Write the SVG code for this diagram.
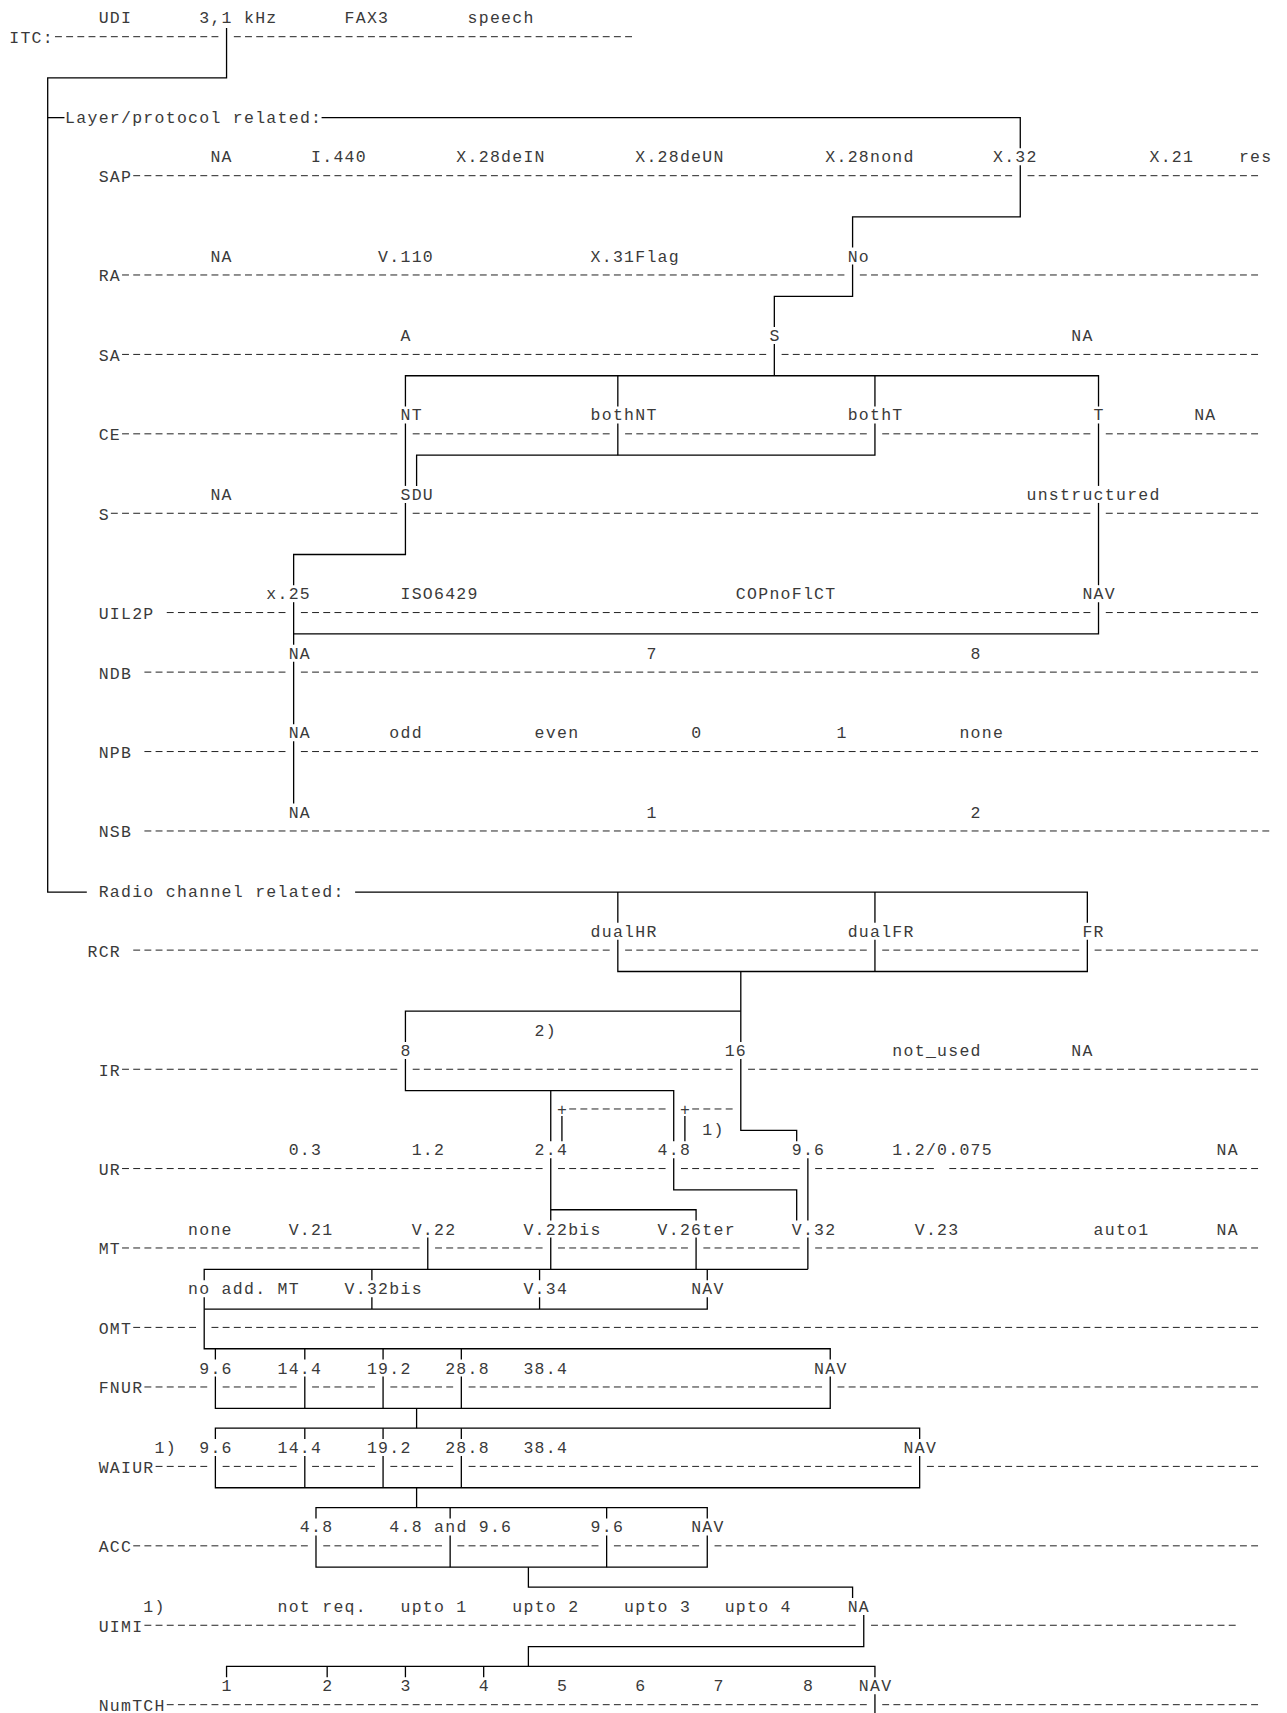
<svg xmlns="http://www.w3.org/2000/svg" width="1287" height="1713" viewBox="0 0 1287 1713">
<style>
.t{font-family:"Liberation Mono","DejaVu Sans Mono",monospace;font-size:16.5px;letter-spacing:1.279px;fill:#3a3a3a;white-space:pre}
.d{stroke:#222;stroke-width:1;stroke-dasharray:6.9 4.279;fill:none}
.c{stroke:#000;stroke-width:1.3;fill:none}
</style>
<rect width="1287" height="1713" fill="#fff"/>
<g id="itc">
<text class="t" x="98.64" y="23.34">UDI</text><text class="t" x="199.25" y="23.34">3,1 kHz</text><text class="t" x="344.58" y="23.34">FAX3</text><text class="t" x="467.55" y="23.34">speech</text>
<text class="t" x="9.21" y="43.2">ITC:</text>
<path class="d" d="M54.99,36.7H218.39M233.85,36.7H632.02"/>
</g>
<g id="layer"><text class="t" x="65.11" y="122.63">Layer/protocol related:</text></g>
<g id="sap">
<text class="t" x="210.43" y="162.34">NA</text><text class="t" x="311.04" y="162.34">I.440</text><text class="t" x="456.37" y="162.34">X.28deIN</text><text class="t" x="635.23" y="162.34">X.28deUN</text><text class="t" x="825.28" y="162.34">X.28nond</text><text class="t" x="992.96" y="162.34">X.32</text><text class="t" x="1149.47" y="162.34">X.21</text><text class="t" x="1238.9" y="162.34">res</text>
<text class="t" x="98.64" y="182.2">SAP</text>
<path class="d" d="M133.24,175.7H1012.1M1027.56,175.7H1258.04"/>
</g>
<g id="ra">
<text class="t" x="210.43" y="261.62">NA</text><text class="t" x="378.12" y="261.62">V.110</text><text class="t" x="590.52" y="261.62">X.31Flag</text><text class="t" x="847.64" y="261.62">No</text>
<text class="t" x="98.64" y="281.48">RA</text>
<path class="d" d="M122.06,274.98H844.42M859.87,274.98H1258.04"/>
</g>
<g id="sa">
<text class="t" x="400.48" y="341.05">A</text><text class="t" x="769.38" y="341.05">S</text><text class="t" x="1071.22" y="341.05">NA</text>
<text class="t" x="98.64" y="360.91">SA</text>
<path class="d" d="M122.06,354.41H766.16M781.62,354.41H1258.04"/>
</g>
<g id="ce">
<text class="t" x="400.48" y="420.48">NT</text><text class="t" x="590.52" y="420.48">bothNT</text><text class="t" x="847.64" y="420.48">bothT</text><text class="t" x="1093.57" y="420.48">T</text><text class="t" x="1194.18" y="420.48">NA</text>
<text class="t" x="98.64" y="440.34">CE</text>
<path class="d" d="M122.06,433.84H397.26M412.71,433.84H609.66M625.12,433.84H866.77M882.23,433.84H1090.35M1105.81,433.84H1258.04"/>
</g>
<g id="s">
<text class="t" x="210.43" y="499.91">NA</text><text class="t" x="400.48" y="499.91">SDU</text><text class="t" x="1026.5" y="499.91">unstructured</text>
<text class="t" x="98.64" y="519.77">S</text>
<path class="d" d="M110.88,513.27H397.26M412.71,513.27H1090.35M1105.81,513.27H1258.04"/>
</g>
<g id="uil2p">
<text class="t" x="266.33" y="599.19">x.25</text><text class="t" x="400.48" y="599.19">ISO6429</text><text class="t" x="735.85" y="599.19">COPnoFlCT</text><text class="t" x="1082.39" y="599.19">NAV</text>
<text class="t" x="98.64" y="619.05">UIL2P</text>
<path class="d" d="M166.78,612.55H285.47M300.92,612.55H1090.35M1105.81,612.55H1258.04"/>
</g>
<g id="ndb">
<text class="t" x="288.69" y="658.76">NA</text><text class="t" x="646.41" y="658.76">7</text><text class="t" x="970.6" y="658.76">8</text>
<text class="t" x="98.64" y="678.62">NDB</text>
<path class="d" d="M144.42,672.12H285.47M300.92,672.12H1258.04"/>
</g>
<g id="npb">
<text class="t" x="288.69" y="738.19">NA</text><text class="t" x="389.3" y="738.19">odd</text><text class="t" x="534.62" y="738.19">even</text><text class="t" x="691.13" y="738.19">0</text><text class="t" x="836.46" y="738.19">1</text><text class="t" x="959.43" y="738.19">none</text>
<text class="t" x="98.64" y="758.05">NPB</text>
<path class="d" d="M144.42,751.55H285.47M300.92,751.55H1258.04"/>
</g>
<g id="nsb">
<text class="t" x="288.69" y="817.62">NA</text><text class="t" x="646.41" y="817.62">1</text><text class="t" x="970.6" y="817.62">2</text>
<text class="t" x="98.64" y="837.48">NSB</text>
<path class="d" d="M144.42,830.98H1269.22"/>
</g>
<g id="radio"><text class="t" x="98.64" y="897.05">Radio channel related:</text></g>
<g id="rcr">
<text class="t" x="590.52" y="936.76">dualHR</text><text class="t" x="847.64" y="936.76">dualFR</text><text class="t" x="1082.39" y="936.76">FR</text>
<text class="t" x="87.46" y="956.62">RCR</text>
<path class="d" d="M133.24,950.12H609.66M625.12,950.12H866.77M882.23,950.12H1079.18M1094.63,950.12H1258.04"/>
</g>
<g id="ir">
<text class="t" x="534.62" y="1036.05">2)</text>
<text class="t" x="400.48" y="1055.9">8</text><text class="t" x="724.67" y="1055.9">16</text><text class="t" x="892.35" y="1055.9">not_used</text><text class="t" x="1071.22" y="1055.9">NA</text>
<text class="t" x="98.64" y="1075.76">IR</text>
<path class="d" d="M122.06,1069.26H397.26M412.71,1069.26H732.63M748.08,1069.26H1258.04"/>
</g>
<g id="note1">
<text class="t" x="556.98" y="1115.48">+</text><text class="t" x="679.95" y="1115.48">+</text>
<path class="d" d="M569.22,1108.98H665.55M692.19,1108.98H732.63"/>
<text class="t" x="702.31" y="1135.33">1)</text>
</g>
<g id="ur">
<text class="t" x="288.69" y="1155.19">0.3</text><text class="t" x="411.65" y="1155.19">1.2</text><text class="t" x="534.62" y="1155.19">2.4</text><text class="t" x="657.59" y="1155.19">4.8</text><text class="t" x="791.74" y="1155.19">9.6</text><text class="t" x="892.35" y="1155.19">1.2/0.075</text><text class="t" x="1216.54" y="1155.19">NA</text>
<text class="t" x="98.64" y="1175.05">UR</text>
<path class="d" d="M122.06,1168.55H542.58M558.04,1168.55H665.55M681.01,1168.55H799.7M815.16,1168.55H933.85M949.31,1168.55H1258.04"/>
</g>
<g id="mt">
<text class="t" x="188.07" y="1234.62">none</text><text class="t" x="288.69" y="1234.62">V.21</text><text class="t" x="411.65" y="1234.62">V.22</text><text class="t" x="523.44" y="1234.62">V.22bis</text><text class="t" x="657.59" y="1234.62">V.26ter</text><text class="t" x="791.74" y="1234.62">V.32</text><text class="t" x="914.71" y="1234.62">V.23</text><text class="t" x="1093.57" y="1234.62">auto1</text><text class="t" x="1216.54" y="1234.62">NA</text>
<text class="t" x="98.64" y="1254.47">MT</text>
<path class="d" d="M122.06,1247.97H419.61M435.07,1247.97H542.58M558.04,1247.97H687.91M703.37,1247.97H799.7M815.16,1247.97H1258.04"/>
</g>
<g id="omt">
<text class="t" x="188.07" y="1294.19">no add. MT</text><text class="t" x="344.58" y="1294.19">V.32bis</text><text class="t" x="523.44" y="1294.19">V.34</text><text class="t" x="691.13" y="1294.19">NAV</text>
<text class="t" x="98.64" y="1333.9">OMT</text>
<path class="d" d="M133.24,1327.4H196.03M211.49,1327.4H1258.04"/>
</g>
<g id="fnur">
<text class="t" x="199.25" y="1373.62">9.6</text><text class="t" x="277.51" y="1373.62">14.4</text><text class="t" x="366.94" y="1373.62">19.2</text><text class="t" x="445.19" y="1373.62">28.8</text><text class="t" x="523.44" y="1373.62">38.4</text><text class="t" x="814.1" y="1373.62">NAV</text>
<text class="t" x="98.64" y="1393.47">FNUR</text>
<path class="d" d="M144.42,1386.97H207.21M222.67,1386.97H296.65M312.1,1386.97H374.9M390.36,1386.97H453.15M468.61,1386.97H822.06M837.52,1386.97H1258.04"/>
</g>
<g id="waiur">
<text class="t" x="154.54" y="1453.04">1)</text><text class="t" x="199.25" y="1453.04">9.6</text><text class="t" x="277.51" y="1453.04">14.4</text><text class="t" x="366.94" y="1453.04">19.2</text><text class="t" x="445.19" y="1453.04">28.8</text><text class="t" x="523.44" y="1453.04">38.4</text><text class="t" x="903.53" y="1453.04">NAV</text>
<text class="t" x="98.64" y="1472.9">WAIUR</text>
<path class="d" d="M155.6,1466.4H207.21M222.67,1466.4H296.65M312.1,1466.4H374.9M390.36,1466.4H453.15M468.61,1466.4H911.49M926.95,1466.4H1258.04"/>
</g>
<g id="acc">
<text class="t" x="299.86" y="1532.47">4.8</text><text class="t" x="389.3" y="1532.47">4.8 and 9.6</text><text class="t" x="590.52" y="1532.47">9.6</text><text class="t" x="691.13" y="1532.47">NAV</text>
<text class="t" x="98.64" y="1552.33">ACC</text>
<path class="d" d="M133.24,1545.83H307.82M323.28,1545.83H441.97M457.43,1545.83H598.48M613.94,1545.83H699.09M714.55,1545.83H1258.04"/>
</g>
<g id="uimi">
<text class="t" x="143.36" y="1611.9">1)</text><text class="t" x="277.51" y="1611.9">not req.</text><text class="t" x="400.48" y="1611.9">upto 1</text><text class="t" x="512.27" y="1611.9">upto 2</text><text class="t" x="624.06" y="1611.9">upto 3</text><text class="t" x="724.67" y="1611.9">upto 4</text><text class="t" x="847.64" y="1611.9">NA</text>
<text class="t" x="98.64" y="1631.76">UIMI</text>
<path class="d" d="M144.42,1625.26H855.6M871.05,1625.26H1235.68"/>
</g>
<g id="numtch">
<text class="t" x="221.61" y="1691.33">1</text><text class="t" x="322.22" y="1691.33">2</text><text class="t" x="400.48" y="1691.33">3</text><text class="t" x="478.73" y="1691.33">4</text><text class="t" x="556.98" y="1691.33">5</text><text class="t" x="635.23" y="1691.33">6</text><text class="t" x="713.49" y="1691.33">7</text><text class="t" x="802.92" y="1691.33">8</text><text class="t" x="858.81" y="1691.33">NAV</text>
<text class="t" x="98.64" y="1711.18">NumTCH</text>
<path class="d" d="M166.78,1704.68H866.77M882.23,1704.68H1258.04"/>
</g>
<g id="connectors" class="c">
<path d="M226.56,28V77.91H47.7V892.05H86.82"/>
<path d="M47.7,117.63H64.47"/>
<path d="M321.58,117.63H1020.27V148.34"/>
<path d="M1020.27,165.34V216.91H852.59V247.62"/>
<path d="M852.59,264.62V296.34H774.33V327.05"/>
<path d="M774.33,344.05V375.77"/>
<path d="M405.43,406.48V375.77H1098.52V406.48"/>
<path d="M617.83,375.77V406.48M874.94,375.77V406.48"/>
<path d="M405.43,423.48V485.91"/>
<path d="M617.83,423.48V455.19"/>
<path d="M416.6,485.91V455.19H874.94V423.48"/>
<path d="M1098.52,423.48V485.91"/>
<path d="M405.43,502.91V554.48H293.64V585.19"/>
<path d="M1098.52,502.91V585.19"/>
<path d="M293.64,602.19V644.76"/>
<path d="M293.64,633.91H1098.52V602.19"/>
<path d="M293.64,661.76V724.19M293.64,741.19V803.62"/>
<path d="M355.12,892.05H1087.34V922.76"/>
<path d="M617.83,892.05V922.76M874.94,892.05V922.76"/>
<path d="M617.83,939.76V971.48H1087.34V939.76"/>
<path d="M874.94,939.76V971.48"/>
<path d="M740.8,971.48V1041.9"/>
<path d="M405.43,1041.9V1011.19H740.8"/>
<path d="M740.8,1058.9V1130.33H796.69V1141.19"/>
<path d="M405.43,1058.9V1090.62H673.72V1141.19"/>
<path d="M550.75,1090.62V1141.19"/>
<path d="M561.93,1116V1141.19M684.9,1116V1141.19"/>
<path d="M550.75,1158.19V1220.62"/>
<path d="M550.75,1209.76H696.08V1220.62"/>
<path d="M673.72,1158.19V1189.9H796.69V1220.62"/>
<path d="M807.87,1158.19V1220.62"/>
<path d="M427.78,1237.62V1269.33M550.75,1237.62V1269.33M696.08,1237.62V1269.33M807.87,1237.62V1269.33"/>
<path d="M204.2,1280.19V1269.33H807.87"/>
<path d="M371.89,1269.33V1280.19M539.57,1269.33V1280.19M707.26,1269.33V1280.19"/>
<path d="M204.2,1297.19V1348.76H830.23V1359.62"/>
<path d="M204.2,1309.05H707.26V1297.19"/>
<path d="M371.89,1297.19V1309.05M539.57,1297.19V1309.05"/>
<path d="M215.38,1348.76V1359.62M304.81,1348.76V1359.62M383.07,1348.76V1359.62M461.32,1348.76V1359.62"/>
<path d="M215.38,1376.62V1408.33H830.23V1376.62"/>
<path d="M304.81,1376.62V1408.33M383.07,1376.62V1408.33M461.32,1376.62V1408.33"/>
<path d="M416.6,1408.33V1428.19"/>
<path d="M215.38,1439.04V1428.19H919.66V1439.04"/>
<path d="M304.81,1428.19V1439.04M383.07,1428.19V1439.04M461.32,1428.19V1439.04"/>
<path d="M215.38,1456.04V1487.76H919.66V1456.04"/>
<path d="M304.81,1456.04V1487.76M383.07,1456.04V1487.76M461.32,1456.04V1487.76"/>
<path d="M416.6,1487.76V1507.61"/>
<path d="M315.99,1518.47V1507.61H707.26V1518.47"/>
<path d="M450.14,1507.61V1518.47M606.65,1507.61V1518.47"/>
<path d="M315.99,1535.47V1567.19H707.26V1535.47"/>
<path d="M450.14,1535.47V1567.19M606.65,1535.47V1567.19"/>
<path d="M528.39,1567.19V1587.04H852.59V1597.9"/>
<path d="M863.76,1614.9V1646.61H528.39V1666.47"/>
<path d="M226.56,1677.33V1666.47H874.94V1677.33"/>
<path d="M327.17,1666.47V1677.33M405.43,1666.47V1677.33M483.68,1666.47V1677.33"/>
<path d="M874.94,1694.33V1713"/>
</g>
</svg>
